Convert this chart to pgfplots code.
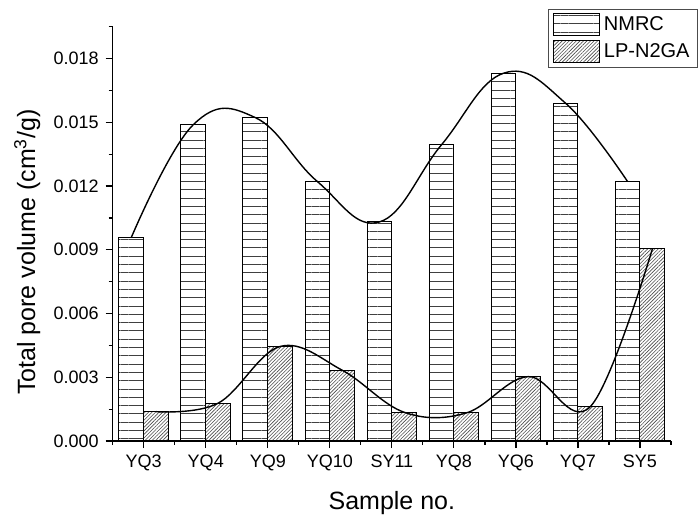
\documentclass[border=0pt]{standalone}
\usepackage{fontspec}
\setmainfont{Liberation Sans}
\usepackage{pgfplots}
\pgfplotsset{compat=1.18}
\usepackage{pgfplotstable}
\usetikzlibrary{patterns.meta}

\pgfplotsset{my legend/.style={legend image code/.code={\draw[##1, line width=0.5pt] (0pt,-5.5pt) rectangle (23pt,5.5pt);}}}

\pgfplotstableread{
x NMRC LP
0 0.00958 0.00138
1 0.01489 0.00178
2 0.01522 0.00445
3 0.01221 0.00333
4 0.01031 0.00135
5 0.01394 0.00132
6 0.01731 0.00303
7 0.01590 0.00162
8 0.01221 0.00904
}\datatable

\begin{document}
\begin{tikzpicture}
\begin{axis}[
  name=ax,
  scale only axis,
  width=279.15pt, height=207.15pt,
  xmin=-0.5, xmax=8.5, ymin=0, ymax=0.0195,
  axis x line*=bottom, axis y line*=left,
  axis line style={line width=0.6pt, -},
  xtick={0,1,2,3,4,5,6,7,8},
  xticklabels={YQ3,YQ4,YQ9,YQ10,SY11,YQ8,YQ6,YQ7,SY5},
  minor xtick={-0.5,0.5,1.5,2.5,3.5,4.5,5.5,6.5,7.5,8.5},
  ytick={0,0.003,0.006,0.009,0.012,0.015,0.018},
  minor ytick={0.0015,0.0045,0.0075,0.0105,0.0135,0.0165,0.0195},
  tick align=outside,
  major tick length=3.5pt, minor tick length=2pt,
  tick style={line width=0.6pt, black},
  scaled y ticks=false,
  yticklabel style={/pgf/number format/fixed, /pgf/number format/fixed zerofill, /pgf/number format/precision=3, /pgf/number format/assume math mode=true},
  ticklabel style={font=\fontsize{9}{11}\selectfont},
  xlabel={Sample no.},
  ylabel={Total pore volume (cm\textsuperscript{3}/g)},
  label style={font=\fontsize{12.5}{15}\selectfont},
  xlabel style={at={(axis description cs:0.5,-0.1665)}, anchor=base},
  ylabel style={at={(axis description cs:-0.139,0.456)}, anchor=base},
  legend style={at={(axis description cs:1.0484,1.0427)}, anchor=north east,
    draw=black!70, line width=0.5pt, font=\fontsize{10}{12}\selectfont,
    inner xsep=2pt, inner ysep=1.5pt, row sep=1pt,
    /tikz/every even column/.append style={column sep=0pt}},
  legend cell align=left,
]
\addplot[ybar, bar width=0.4, bar shift=-0.2, draw=black, line width=0.5pt,
  pattern={Lines[angle=0, distance=4.15pt, line width=0.45pt]}, pattern color=black!75,
  my legend]
  table[x=x, y=NMRC] {\datatable};
\addlegendentry{NMRC}
\addplot[ybar, bar width=0.4, bar shift=0.2, draw=black, line width=0.5pt,
  pattern={Lines[angle=45, distance=1.25pt, line width=0.3pt]}, pattern color=black!70,
  my legend]
  table[x=x, y=LP] {\datatable};
\addlegendentry{LP-N2GA}
\addplot[black, line width=0.7pt, smooth, tension=0.7, no marks, forget plot]
  table[x expr=\thisrow{x}-0.2, y=NMRC] {\datatable};
\addplot[black, line width=0.7pt, smooth, tension=0.62, no marks, forget plot]
  table[x expr=\thisrow{x}+0.2, y=LP] {\datatable};
\end{axis}
\path (-56.35pt,-37.5pt) rectangle (293.65pt,220.5pt);
\end{tikzpicture}
\end{document}
